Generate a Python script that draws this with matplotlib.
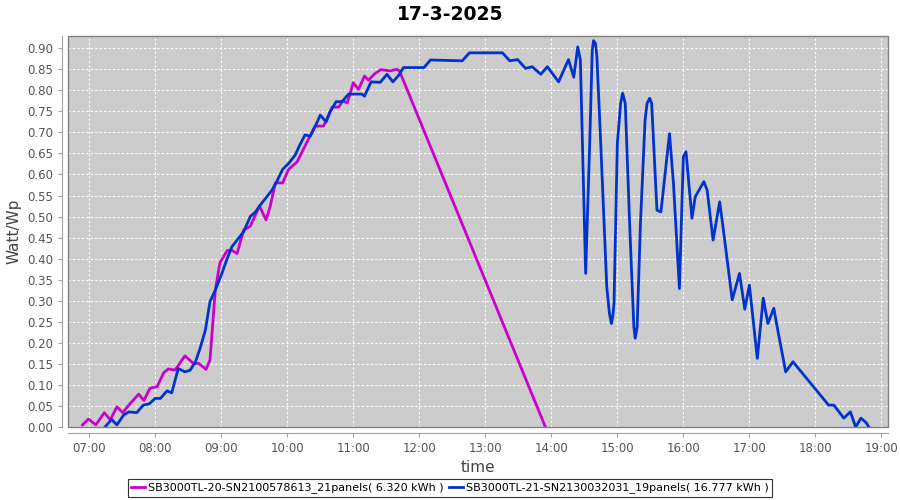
import matplotlib
matplotlib.use("Agg")
import matplotlib.pyplot as plt
from matplotlib.patches import Rectangle
import numpy as np

# decimal hours / Watt per Wp
sb20_hours = [6.90, 6.99, 7.10, 7.23, 7.32, 7.42, 7.51, 7.60, 7.75, 7.83, 7.92, 8.03,
              8.13, 8.20, 8.30, 8.45, 8.58, 8.66, 8.77, 8.83, 8.91, 8.98, 9.09, 9.16,
              9.24, 9.34, 9.44, 9.58, 9.68, 9.74, 9.82, 9.93, 10.02, 10.15, 10.29,
              10.42, 10.55, 10.68, 10.78, 10.84, 10.91, 11.00, 11.08, 11.17, 11.23,
              11.33, 11.42, 11.56, 11.66, 11.70, 13.91]
sb20_values = [0.005, 0.019, 0.005, 0.034, 0.017, 0.048, 0.034, 0.052, 0.078, 0.063,
               0.092, 0.096, 0.129, 0.138, 0.135, 0.169, 0.151, 0.151, 0.137, 0.159,
               0.325, 0.390, 0.419, 0.420, 0.412, 0.468, 0.477, 0.525, 0.492, 0.523,
               0.580, 0.580, 0.612, 0.630, 0.674, 0.715, 0.715, 0.760, 0.760, 0.775,
               0.770, 0.818, 0.802, 0.834, 0.824, 0.840, 0.849, 0.846, 0.850, 0.846,
               0.000]

sb21_hours = [7.24, 7.34, 7.42, 7.52, 7.60, 7.72, 7.82, 7.91, 8.00, 8.08, 8.18, 8.25,
              8.35, 8.45, 8.53, 8.61, 8.68, 8.76, 8.83, 8.91, 9.01, 9.09, 9.16, 9.26,
              9.34, 9.44, 9.52, 9.59, 9.67, 9.77, 9.84, 9.93, 10.02, 10.12, 10.19,
              10.27, 10.35, 10.42, 10.50, 10.59, 10.65, 10.74, 10.83, 10.93, 11.13,
              11.17, 11.27, 11.41, 11.51, 11.60, 11.69, 11.76, 12.07, 12.17, 12.65,
              12.76, 13.26, 13.37, 13.49, 13.61, 13.71, 13.84, 13.94, 14.11, 14.26,
              14.34, 14.40, 14.44, 14.52, 14.58, 14.62, 14.64, 14.67, 14.69, 14.74,
              14.84, 14.88, 14.91, 14.93, 14.95, 15.00, 15.05, 15.08, 15.12, 15.19,
              15.25, 15.27, 15.30, 15.35, 15.42, 15.45, 15.49, 15.52, 15.60, 15.66,
              15.79, 15.85, 15.94, 16.00, 16.04, 16.13, 16.18, 16.31, 16.36, 16.45,
              16.55, 16.60, 16.74, 16.85, 16.93, 17.00, 17.12, 17.21, 17.28, 17.37,
              17.43, 17.55, 17.66, 18.20, 18.28, 18.43, 18.53, 18.61, 18.69, 18.77,
              18.81]
sb21_values = [0.000, 0.018, 0.005, 0.028, 0.036, 0.034, 0.052, 0.055, 0.068, 0.068,
               0.086, 0.081, 0.139, 0.131, 0.135, 0.155, 0.187, 0.230, 0.298, 0.325,
               0.365, 0.400, 0.428, 0.448, 0.464, 0.500, 0.511, 0.527, 0.543, 0.563,
               0.583, 0.612, 0.626, 0.646, 0.670, 0.694, 0.691, 0.713, 0.741, 0.725,
               0.749, 0.773, 0.773, 0.791, 0.791, 0.786, 0.820, 0.819, 0.838, 0.820,
               0.836, 0.854, 0.854, 0.872, 0.870, 0.889, 0.889, 0.870, 0.873, 0.852,
               0.856, 0.838, 0.856, 0.820, 0.873, 0.831, 0.903, 0.872, 0.365, 0.666,
               0.895, 0.918, 0.911, 0.880, 0.705, 0.333, 0.270, 0.246, 0.262, 0.294,
               0.674, 0.769, 0.793, 0.769, 0.468, 0.238, 0.211, 0.238, 0.484, 0.729,
               0.769, 0.781, 0.769, 0.515, 0.511, 0.697, 0.579, 0.329, 0.642, 0.654,
               0.496, 0.547, 0.583, 0.563, 0.444, 0.535, 0.476, 0.302, 0.365, 0.280,
               0.337, 0.163, 0.306, 0.246, 0.282, 0.230, 0.131, 0.155, 0.052, 0.052,
               0.021, 0.036, 0.000, 0.021, 0.010, 0.000]

tick_hours = list(range(7, 20))
tick_labels = [f"{h:02d}:00" for h in tick_hours]
legend_labels = ["SB3000TL-20-SN2100578613_21panels( 6.320 kWh )",
                 "SB3000TL-21-SN2130032031_19panels( 16.777 kWh )"]

fig = plt.figure(figsize=(9, 5), dpi=100)
ax = fig.add_axes([0.0756, 0.146, 0.9111, 0.782])
ax.set_facecolor("#CCCCCC")

ax.plot(sb20_hours, sb20_values, color="#CC00CC", lw=2, label=legend_labels[0])
ax.plot(sb21_hours, sb21_values, color="#0033CC", lw=2, label=legend_labels[1])

ax.set_xlim(6.68, 19.10)
ax.set_ylim(0, 0.929)
ax.set_xticks(tick_hours)
ax.set_xticklabels(tick_labels)
ax.set_yticks(np.arange(0, 0.901, 0.05))
ax.yaxis.set_major_formatter(matplotlib.ticker.FormatStrFormatter("%.2f"))
ax.tick_params(labelsize=8.5, color="#A0A0A0", labelcolor="#555555",
               length=3, width=0.8)

ax.grid(True, color="white", linestyle=(0, (2, 2)), linewidth=0.8)
ax.set_axisbelow(True)

for side in ["left", "bottom"]:
    ax.spines[side].set_position(("outward", 4))
    ax.spines[side].set_color("#A0A0A0")
for side in ["top", "right"]:
    ax.spines[side].set_visible(False)
ax.add_patch(Rectangle((0, 0), 1, 1, transform=ax.transAxes, fill=False,
                       edgecolor="#808080", lw=1, clip_on=False, zorder=5))

ax.set_xlabel("time", fontsize=11, color="#444444")
ax.set_ylabel("Watt/Wp", fontsize=11, color="#444444")
fig.suptitle("17-3-2025", fontsize=13.5, fontweight="bold", y=0.99)

leg = fig.legend(loc="lower center", bbox_to_anchor=(0.5, 0.0), ncol=2,
                 fontsize=8, frameon=True, fancybox=False, edgecolor="black",
                 handlelength=1.2, handletextpad=0.3, columnspacing=0.5,
                 borderpad=0.3, borderaxespad=0.3)
leg.get_frame().set_linewidth(0.8)

fig.savefig("out.png", dpi=100)
